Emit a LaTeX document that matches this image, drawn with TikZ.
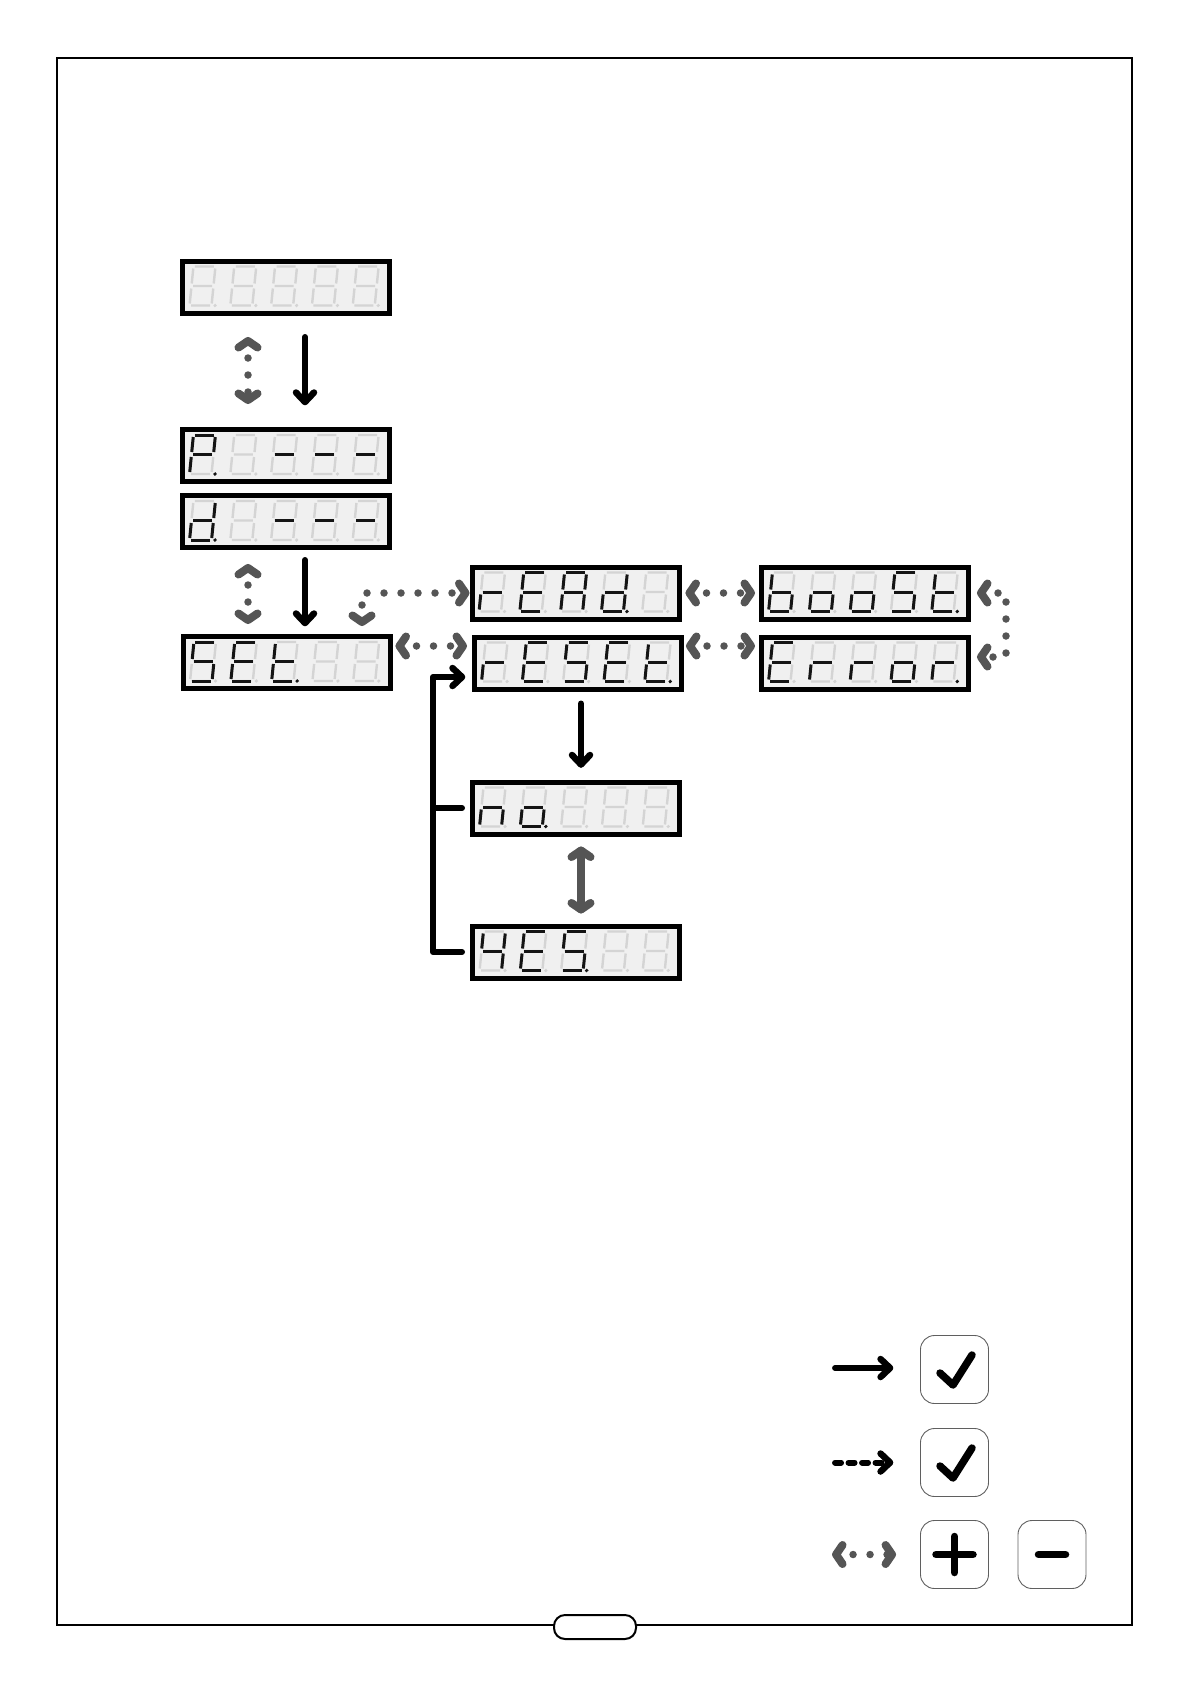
\documentclass[tikz,border=0pt]{standalone}
\usepackage{xcolor}
\usepackage{tikz}
\usetikzlibrary{arrows.meta, positioning, calc, decorations.markings}
\definecolor{lcdback}{RGB}{240, 240, 240}
\definecolor{segoff}{RGB}{212, 212, 212}
\definecolor{segon}{RGB}{20, 20, 20}
\definecolor{keygray}{RGB}{95, 95, 95}
\definecolor{navgray}{RGB}{85, 85, 85}
\tikzstyle{lcd} = [rectangle, draw=black, fill=lcdback, line width=5pt, minimum width=207pt, minimum height=52pt, inner sep=0pt]
\tikzstyle{seg lit} = [draw=segon, line width=3pt]
\tikzstyle{seg dim} = [draw=segoff, line width=2.4pt]
\tikzstyle{keybutton} = [rectangle, rounded corners=14pt, draw=keygray, line width=0.9pt, minimum width=68pt, minimum height=68pt, inner sep=0pt]
\tikzstyle{pagetab} = [rectangle, rounded corners=11pt, draw=black, fill=white, line width=2pt, minimum width=82pt, minimum height=24pt, inner sep=0pt]
\tikzstyle{chevron} = [solid, line cap=round, line join=round]
\tikzstyle{okarrow} = [draw=black, line width=6pt, line cap=round, line join=round, postaction={decorate, decoration={markings, mark=at position 1 with {\draw[chevron, black, line width=6.5pt] (-9.5pt,-9pt) -- (0pt,0pt) -- (-9.5pt,9pt);}}}]
\tikzstyle{okline} = [draw=black, line width=6pt, line cap=round]
\tikzstyle{navarrow} = [draw=navgray, line width=7.5pt, line cap=round, dash pattern=on 0pt off 17pt, postaction={decorate, decoration={markings, mark=at position 0 with {\draw[chevron, navgray, line width=8pt] (6.5pt,-9.5pt) -- (0pt,0pt) -- (6.5pt,9.5pt);}, mark=at position 1 with {\draw[chevron, navgray, line width=8pt] (-6.5pt,-9.5pt) -- (0pt,0pt) -- (-6.5pt,9.5pt);}}}]
\tikzstyle{navline} = [navarrow, solid]
\tikzstyle{keystroke} = [draw=black, line width=7.5pt, line cap=round, line join=round]

% seven segments of one digit
\newcommand{\lcdsega}{(1.5,-19.5) -- (20.5,-19.5)}
\newcommand{\lcdsegb}{(22,-17.5) -- (22,-2.5)}
\newcommand{\lcdsegc}{(22,2.5) -- (22,17.5)}
\newcommand{\lcdsegd}{(1.5,19.5) -- (20.5,19.5)}
\newcommand{\lcdsege}{(0,2.5) -- (0,17.5)}
\newcommand{\lcdsegf}{(0,-17.5) -- (0,-2.5)}
\newcommand{\lcdsegg}{(1.5,0) -- (20.5,0)}
\newcommand{\lcdsegx}{}
\newcommand{\litseg}[1]{\draw[seg lit] #1;}
% #1 display, #2 the five digits, #3 digit with the point
\newcommand{\lcdtext}[3]{%
  \foreach \segs [count=\i] in {#2} {
    \begin{scope}[shift={($(#1.west)+(40.8*\i-29.3,-1)$)}, xslant=0.1]
      \draw[seg dim] \lcdsega \lcdsegb \lcdsegc \lcdsegd \lcdsege \lcdsegf \lcdsegg;
      \foreach \s in \segs {\expandafter\litseg\csname lcdseg\s\endcsname}
      \ifnum\i=#3\relax
        \fill[segon] (25.5,19.5) circle (1.9);
      \else
        \fill[segoff] (25.5,19.5) circle (1.8);
      \fi
    \end{scope}
  }%
}

\begin{document}
\begin{tikzpicture}[x=1pt, y=-1pt]
    \useasboundingbox (0,0) rectangle (1190,1684);
    % Page frame
    \draw[line width=2.5pt] (57,58) rectangle (1132,1625);
    \node[pagetab] (tab) at (595,1627) {};

    % Displays
    \node[lcd] (blank) at (286,287) {};
    \node[lcd] (pdisp) at (286,455.5) {};
    \node[lcd] (ddisp) at (286,521.5) {};
    \node[lcd] (setdisp) at (286.5,662.5) {};
    \node[lcd] (readdisp) at (575.5,593) {};
    \node[lcd] (resetdisp) at (578,663) {};
    \node[lcd] (boostdisp) at (865,593) {};
    \node[lcd] (errordisp) at (865,663) {};
    \node[lcd] (nodisp) at (576,808) {};
    \node[lcd] (yesdisp) at (576,952) {};

    % Digits
    \lcdtext{blank}{{x},{x},{x},{x},{x}}{0}
    \lcdtext{pdisp}{{a,b,e,f,g},{x},{g},{g},{g}}{1}
    \lcdtext{ddisp}{{b,c,d,e,g},{x},{g},{g},{g}}{1}
    \lcdtext{setdisp}{{a,f,g,c,d},{a,f,g,e,d},{f,g,e,d},{x},{x}}{3}
    \lcdtext{readdisp}{{e,g},{a,f,g,e,d},{a,b,c,e,f,g},{b,c,d,e,g},{x}}{4}
    \lcdtext{resetdisp}{{e,g},{a,f,g,e,d},{a,f,g,c,d},{a,f,g,e,d},{f,g,e,d}}{5}
    \lcdtext{boostdisp}{{f,e,g,c,d},{g,c,d,e},{g,c,d,e},{a,f,g,c,d},{f,g,e,d}}{5}
    \lcdtext{errordisp}{{a,f,g,e,d},{e,g},{e,g},{g,c,d,e},{e,g}}{5}
    \lcdtext{nodisp}{{e,g,c},{g,c,d,e},{x},{x},{x}}{2}
    \lcdtext{yesdisp}{{f,b,g,c},{a,f,g,e,d},{a,f,g,c,d},{x},{x}}{3}

    % Arrows
    \draw[navarrow] ([xshift=-38pt,yshift=-25.5pt]blank.south) -- ([xshift=-38pt,yshift=27pt]pdisp.north);
    \draw[okarrow] ([xshift=19pt,yshift=-21.5pt]blank.south) -- ([xshift=19pt,yshift=25pt]pdisp.north);
    \draw[navarrow] ([xshift=-38pt,yshift=-18pt]ddisp.south) -- ([xshift=-38.5pt,yshift=14pt]setdisp.north);
    \draw[okarrow] ([xshift=19pt,yshift=-10pt]ddisp.south) -- ([xshift=18.5pt,yshift=11pt]setdisp.north);
    \draw[navarrow] ([xshift=75.5pt,yshift=12pt]setdisp.north) |- ([xshift=-4pt]readdisp.west);
    \draw[navarrow] ([xshift=7pt,yshift=16.5pt]setdisp.east) -- ([xshift=-9pt,yshift=17pt]resetdisp.west);
    \draw[navarrow] ([xshift=8pt]readdisp.east) -- ([xshift=-8pt]boostdisp.west);
    \draw[navarrow] ([xshift=6pt,yshift=17pt]resetdisp.east) -- ([xshift=-8pt,yshift=17pt]errordisp.west);
    \draw[navarrow] ([xshift=10pt]boostdisp.east) -- ++(25,0) |- ([xshift=10pt,yshift=6pt]errordisp.east);
    \draw[okarrow] ([xshift=3pt,yshift=-12pt]resetdisp.south) -- ([xshift=5pt,yshift=15pt]nodisp.north);
    \draw[navline] ([xshift=5pt,yshift=-14pt]nodisp.south) -- ([xshift=5pt,yshift=14pt]yesdisp.north);
    \draw[okline] ([xshift=-8pt]nodisp.west) -- ++(-29,0);
    \draw[okarrow] ([xshift=-8pt]yesdisp.west) -- ++(-29,0) |- ([xshift=-10pt,yshift=-14pt]resetdisp.west);

    % Legend
    \node[keybutton] (okkey) at (954.5,1369.5) {};
    \node[keybutton] (okkeyb) at (954.5,1462.5) {};
    \node[keybutton] (pluskey) at (954.5,1554.5) {};
    \node[keybutton] (minuskey) at (1052,1554.5) {};
    \draw[keystroke, shift={(okkey.center)}] (-14.5,3.5) -- (-1.5,15.5) -- (17.5,-14.5);
    \draw[keystroke, shift={(okkeyb.center)}] (-14.5,3.5) -- (-1.5,15.5) -- (17.5,-14.5);
    \draw[keystroke, shift={(pluskey.center)}] (-18.5,0) -- (18.5,0) (0,-18) -- (0,18);
    \draw[keystroke, shift={(minuskey.center)}] (-13.5,0) -- (13.5,0);
    \draw[okarrow] ([xshift=-85pt,yshift=1.5pt]okkey.west) -- ([xshift=-30pt,yshift=1.5pt]okkey.west);
    \draw[okarrow, dash pattern=on 6pt off 7.5pt] ([xshift=-85pt]okkeyb.west) -- ([xshift=-30pt]okkeyb.west);
    \draw[navarrow] ([xshift=-84pt]pluskey.west) -- ([xshift=-28pt]pluskey.west);
\end{tikzpicture}
\end{document}
